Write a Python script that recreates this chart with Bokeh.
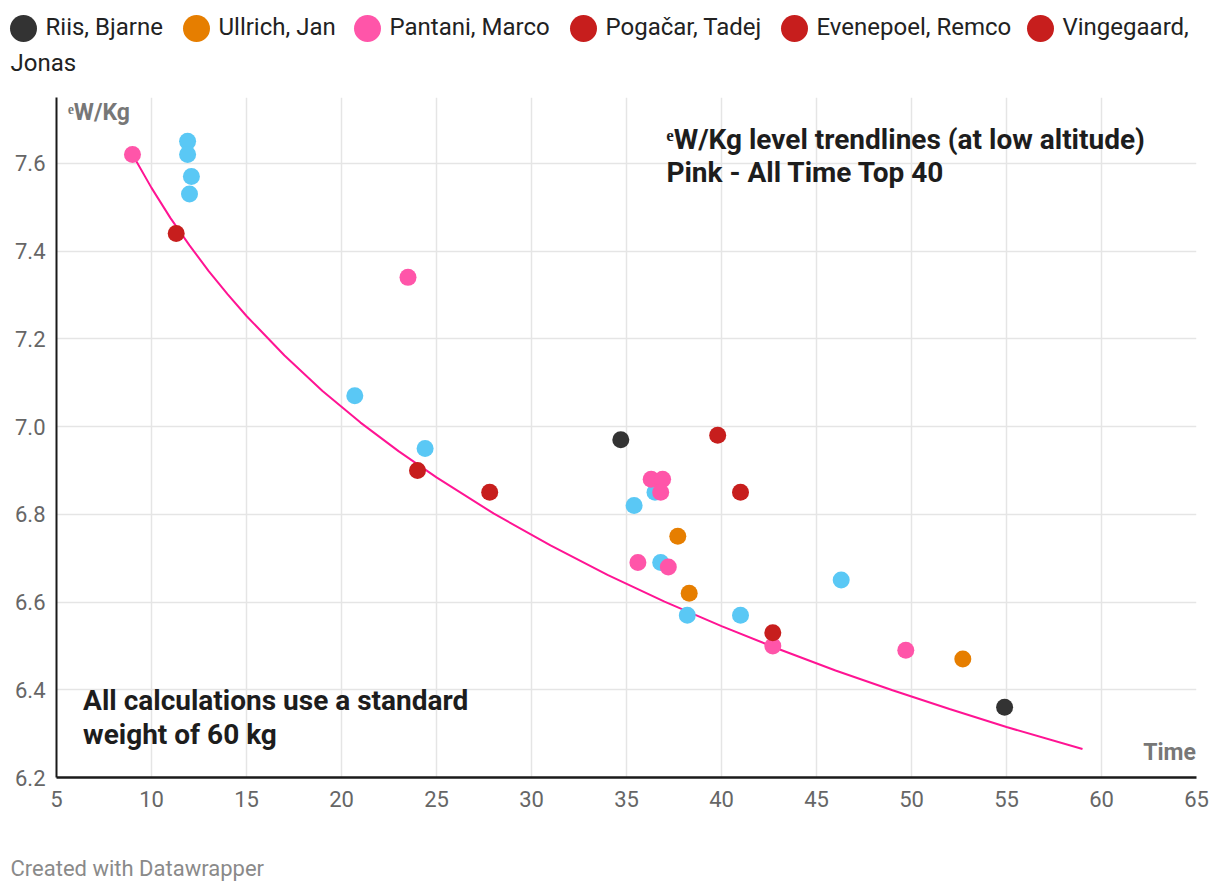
from bokeh.plotting import figure
from bokeh.models import Range1d, FixedTicker, NumeralTickFormatter
from bokeh.layouts import column
from bokeh.embed import file_html
from bokeh.resources import INLINE
from bokeh.core.properties import value

# ---------------- data ----------------
riis_x = [34.7, 54.9]
riis_y = [6.97, 6.36]
ullrich_x = [37.7, 38.3, 52.7]
ullrich_y = [6.75, 6.62, 6.47]
pantani_x = [9.0, 23.5, 36.3, 36.9, 36.8, 35.6, 37.2, 42.7, 49.7]
pantani_y = [7.62, 7.34, 6.88, 6.88, 6.85, 6.69, 6.68, 6.50, 6.49]
# Pogačar / Evenepoel / Vingegaard share the same red
modern_x = [11.3, 24.0, 27.8, 39.8, 41.0, 42.7]
modern_y = [7.44, 6.90, 6.85, 6.98, 6.85, 6.53]
other_x = [11.9, 11.9, 12.1, 12.0, 20.7, 24.4, 35.4, 36.5, 36.8, 38.2, 41.0, 46.3]
other_y = [7.65, 7.62, 7.57, 7.53, 7.07, 6.95, 6.82, 6.85, 6.69, 6.57, 6.57, 6.65]
trend_x = [9, 10, 11, 12, 13, 14, 15, 17, 19, 21, 23, 25, 28, 31, 34, 37, 40, 43, 46, 49, 52, 55, 59]
trend_y = [7.62, 7.544, 7.475, 7.413, 7.355, 7.302, 7.252, 7.162, 7.081, 7.009, 6.944, 6.884,
           6.802, 6.729, 6.662, 6.601, 6.545, 6.493, 6.444, 6.399, 6.356, 6.315, 6.265]
x_ticks = [5, 10, 15, 20, 25, 30, 35, 40, 45, 50, 55, 60, 65]
y_ticks = [6.2, 6.4, 6.6, 6.8, 7.0, 7.2, 7.4, 7.6]
legend_names = ["Riis, Bjarne", "Ullrich, Jan", "Pantani, Marco", "Pogačar, Tadej",
                "Evenepoel, Remco", "Vingegaard,"]
legend_wrap = "Jonas"

# ---------------- styles / layout ----------------
C_RIIS = "#333333"
C_ULLRICH = "#e67e00"
C_PANTANI = "#ff55a9"
C_RED = "#c71e1d"
C_OTHER = "#5ac8f5"
C_TREND = "#ff1493"
legend_colors = [C_RIIS, C_ULLRICH, C_PANTANI, C_RED, C_RED, C_RED]
legend_circle_px = [23, 196, 367, 583, 794, 1040]
FONT = "Roboto"
W = 1212
LEG_H = 90
MAIN_H = 750
FOOT_H = 46


def no_align(fig):
    try:
        fig.frame_align = False
    except Exception:
        pass


def blank(fig):
    fig.grid.visible = False
    fig.outline_line_color = None
    no_align(fig)


# ---------------- legend ----------------
leg = figure(width=W, height=LEG_H, x_range=Range1d(0, W), y_range=Range1d(LEG_H, 0),
             toolbar_location=None, output_backend="svg", min_border=0,
             x_axis_location=None, y_axis_location=None)
blank(leg)
leg.scatter(legend_circle_px, [28] * 6, size=27, color=legend_colors, line_color=None)
leg.text([cx + 22 for cx in legend_circle_px], [26] * 6, text=legend_names,
         text_font=value(FONT), text_font_size="24px", text_color="#222222",
         text_baseline="middle", text_align="left")
leg.text([10], [62], text=[legend_wrap], text_font=value(FONT), text_font_size="24px",
         text_color="#222222", text_baseline="middle", text_align="left")

# ---------------- main chart ----------------
p = figure(width=W, height=MAIN_H, x_range=Range1d(5, 65), y_range=Range1d(6.2, 7.75),
           toolbar_location=None, output_backend="svg",
           min_border_left=56, min_border_right=16, min_border_top=7, min_border_bottom=63)
no_align(p)
p.outline_line_color = None
p.xaxis.ticker = FixedTicker(ticks=x_ticks)
p.yaxis.ticker = FixedTicker(ticks=y_ticks)
p.yaxis.formatter = NumeralTickFormatter(format="0.0")
for ax in (p.xaxis, p.yaxis):
    ax.major_tick_line_color = None
    ax.minor_tick_line_color = None
    ax.major_tick_out = 0
    ax.major_tick_in = 0
    ax.major_label_text_font = FONT
    ax.major_label_text_font_size = "22px"
    ax.major_label_text_color = "#666666"
    ax.axis_line_color = "#1a1a1a"
p.yaxis.axis_line_width = 2
p.xaxis.axis_line_width = 2.5
p.yaxis.major_label_standoff = 11
p.xaxis.major_label_standoff = 13
p.grid.grid_line_color = "#e5e5e5"
p.grid.grid_line_width = 1.5

p.line(trend_x, trend_y, line_color=C_TREND, line_width=2)
p.scatter(other_x, other_y, size=17, color=C_OTHER, line_color=None)
p.scatter(riis_x, riis_y, size=17, color=C_RIIS, line_color=None)
p.scatter(ullrich_x, ullrich_y, size=17, color=C_ULLRICH, line_color=None)
p.scatter(pantani_x, pantani_y, size=17, color=C_PANTANI, line_color=None)
p.scatter(modern_x, modern_y, size=17, color=C_RED, line_color=None)

p.text([5.6], [7.715], text=["ᵉW/Kg"], text_font=value(FONT), text_font_size="23px",
       text_font_style="bold", text_color="#777777", text_baseline="middle")
p.text([64.97], [6.258], text=["Time"], text_font=value(FONT), text_font_size="23px",
       text_font_style="bold", text_color="#777777", text_baseline="middle", text_align="right")
p.text([37.1, 37.1], [7.655, 7.58],
       text=["ᵉW/Kg level trendlines (at low altitude)", "Pink - All Time Top 40"],
       text_font=value(FONT), text_font_size="28px", text_font_style="bold",
       text_color="#1d1d1d", text_baseline="middle")
p.text([6.4, 6.4], [6.376, 6.299],
       text=["All calculations use a standard", "weight of 60 kg"],
       text_font=value(FONT), text_font_size="28px", text_font_style="bold",
       text_color="#1d1d1d", text_baseline="middle")

# ---------------- footer ----------------
foot = figure(width=W, height=FOOT_H, x_range=Range1d(0, W), y_range=Range1d(FOOT_H, 0),
              toolbar_location=None, output_backend="svg", min_border=0,
              x_axis_location=None, y_axis_location=None)
blank(foot)
foot.text([10], [28], text=["Created with Datawrapper"], text_font=value(FONT),
          text_font_size="22px", text_color="#8a8a8a", text_baseline="middle")

layout = column(leg, p, foot, spacing=0)
open("out.html", "w").write(file_html(layout, INLINE))
